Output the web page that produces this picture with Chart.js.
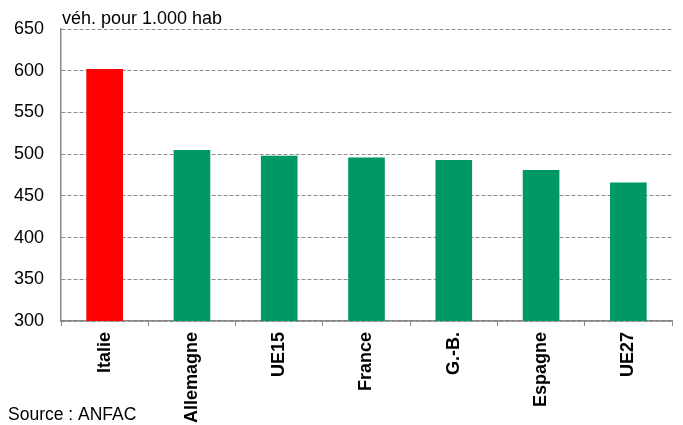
<!DOCTYPE html>
<html>
<head>
<meta charset="utf-8">
<script src="https://cdn.jsdelivr.net/npm/chart.js@4/dist/chart.umd.min.js"></script>
<style>
  html, body { margin: 0; padding: 0; background: #fff; }
  #wrap { position: relative; width: 683px; height: 425px; }
</style>
</head>
<body>
<div id="wrap"><canvas id="chart" width="683" height="425"></canvas></div>
<script>
// Données : véhicules pour 1 000 habitants
const pays = ['Italie', 'Allemagne', 'UE15', 'France', 'G.-B.', 'Espagne', 'UE27'];
const valeurs = [602, 505, 498, 496, 493, 481, 466];
const couleurs = ['#ff0000', '#009966', '#009966', '#009966', '#009966', '#009966', '#009966'];
const yTicks = [300, 350, 400, 450, 500, 550, 600, 650];

const police = "'Liberation Sans', Arial, sans-serif";

// textes hors graphique (unité et source)
const textes = {
    id: 'textes',
    afterDraw(chart) {
        const ctx = chart.ctx;
        ctx.save();
        ctx.fillStyle = '#000';
        ctx.textBaseline = 'alphabetic';
        ctx.textAlign = 'left';
        ctx.font = '18px ' + police;
        ctx.fillText('véh. pour 1.000 hab', 62, 24);
        ctx.font = '17.5px ' + police;
        ctx.fillText('Source : ANFAC', 8, 420);
        ctx.restore();
    }
};

new Chart(document.getElementById('chart'), {
    type: 'bar',
    data: {
        labels: pays,
        datasets: [{
            data: valeurs,
            backgroundColor: couleurs,
            borderWidth: 0,
            categoryPercentage: 1,
            barPercentage: 0.42
        }]
    },
    options: {
        responsive: false,
        animation: false,
        layout: { padding: { top: 29, right: 11, left: 0, bottom: 0 } },
        plugins: {
            legend: { display: false },
            tooltip: { enabled: false }
        },
        scales: {
            x: {
                grid: {
                    drawOnChartArea: false,
                    drawTicks: true,
                    tickLength: 5,
                    color: '#888'
                },
                border: { color: '#888', width: 1.5 },
                ticks: {
                    minRotation: 90,
                    maxRotation: 90,
                    padding: 6,
                    color: '#000',
                    font: { family: police, size: 18, weight: 'bold' }
                },
                afterFit(scale) { scale.height = 104; }
            },
            y: {
                min: 300,
                max: 650,
                afterBuildTicks(scale) { scale.ticks = yTicks.map(v => ({ value: v })); },
                grid: {
                    drawTicks: false,
                    color: '#8c8c8c',
                    lineWidth: 1
                },
                border: { color: '#888', width: 1.5, dash: [4, 2] },
                ticks: {
                    padding: 17,
                    color: '#000',
                    font: { family: police, size: 18 }
                },
                afterFit(scale) { scale.width = 61; }
            }
        }
    },
    plugins: [textes]
});
</script>
</body>
</html>
